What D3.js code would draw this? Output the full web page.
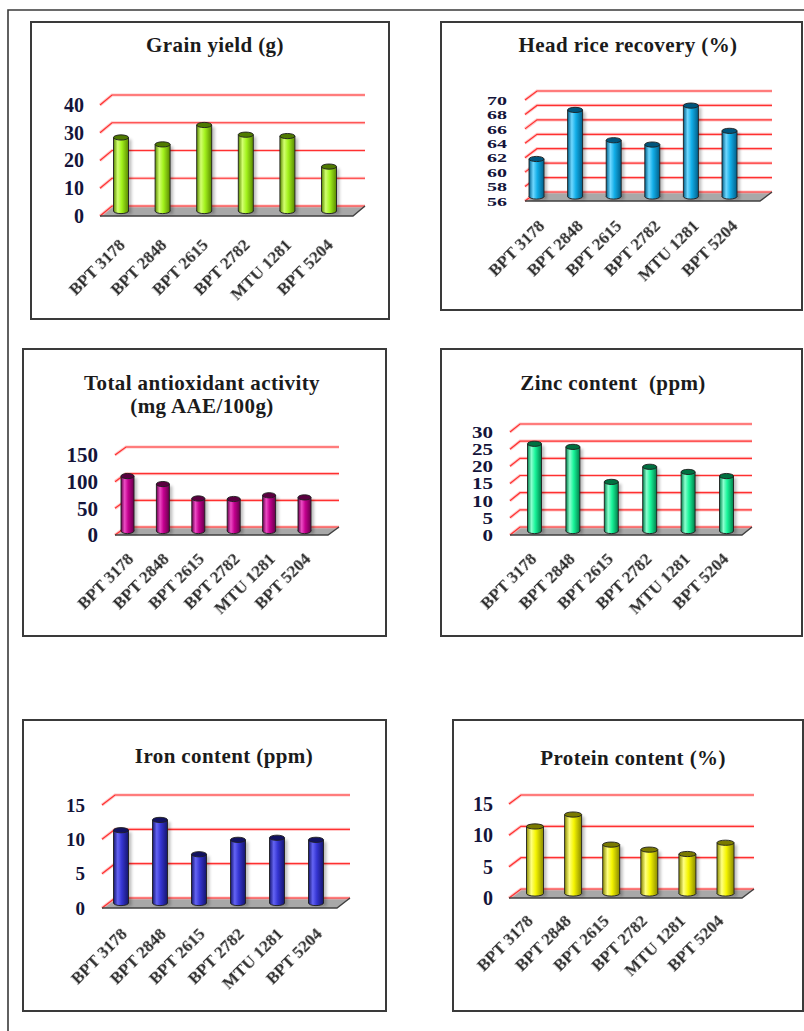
<!DOCTYPE html>
<html>
<head>
<meta charset="utf-8">
<script src="https://cdn.jsdelivr.net/npm/d3@7/dist/d3.min.js"></script>
<style>
  html, body { margin: 0; padding: 0; background: #ffffff; }
  svg { display: block; }
  text { font-family: "Liberation Serif", "Times New Roman", serif; font-weight: bold; }
</style>
</head>
<body>
<svg id="chart" width="804" height="1031"></svg>
<script>
// Rice variety traits
const categories = ["BPT 3178", "BPT 2848", "BPT 2615", "BPT 2782", "MTU 1281", "BPT 5204"];

const grainYield  = [26.5, 24, 31, 27.5, 27, 16];
const headRice    = [61.2, 68.0, 63.8, 63.2, 68.6, 65.1];
const antioxidant = [103, 88, 61, 60, 67, 63];
const zinc        = [25.4, 24.5, 14.3, 18.7, 17.2, 16.0];
const iron        = [10.6, 12.1, 7.1, 9.2, 9.5, 9.2];
const protein     = [10.7, 12.6, 7.8, 7.0, 6.3, 8.1];

const grainTicks       = [0, 10, 20, 30, 40];
const headRiceTicks    = [56, 58, 60, 62, 64, 66, 68, 70];
const antioxidantTicks = [0, 50, 100, 150];
const zincTicks        = [0, 5, 10, 15, 20, 25, 30];
const ironTicks        = [0, 5, 10, 15];
const proteinTicks     = [0, 5, 10, 15];

const grainTitle       = ["Grain yield (g)"];
const headRiceTitle    = ["Head rice recovery (%)"];
const antioxidantTitle = ["Total antioxidant activity", "(mg AAE/100g)"];
const zincTitle        = ["Zinc content  (ppm)"];
const ironTitle        = ["Iron content (ppm)"];
const proteinTitle     = ["Protein content (%)"];

const svg = d3.select("#chart");
const defs = svg.append("defs");

defs.append("filter").attr("id", "shadow")
  .attr("x", "-50%").attr("y", "-10%").attr("width", "200%").attr("height", "130%")
  .append("feGaussianBlur").attr("stdDeviation", 1.6);

defs.append("filter").attr("id", "soft")
  .append("feGaussianBlur").attr("stdDeviation", 0.35);

// outer frame (open at right and bottom)
svg.append("path")
  .attr("d", "M804,10 L8,10 L8,1031")
  .attr("fill", "none").attr("stroke", "#3a3a3a").attr("stroke-width", 1.6);

const panels = [
  { id: "g", values: grainYield, ticks: grainTicks, title: grainTitle,
    box: [31, 22, 358, 297], titleX: 215, titleY: 52,
    fx: 100, fy: 216, W: 253, H: 111, dx: 12, dy: 10,
    c0: 121, step: 41.6, bw: 15, tickX: 84, tickFont: 20, tickSquash: 1,
    labelDx: 5, labelDy: 30,
    base: "#a2f21c", light: "#d2ff70", dark: "#5a8a00", cap: "#4f7a00" },
  { id: "h", values: headRice, ticks: headRiceTicks, title: headRiceTitle,
    box: [441, 22, 361, 288], titleX: 628, titleY: 52,
    fx: 525, fy: 201, W: 235, H: 101, dx: 12, dy: 9,
    c0: 536.5, step: 38.6, bw: 15, tickX: 507, tickFont: 20, tickSquash: 0.66,
    labelDx: 9, labelDy: 26,
    base: "#12aee8", light: "#70d8ff", dark: "#005f8a", cap: "#00557c" },
  { id: "a", values: antioxidant, ticks: antioxidantTicks, title: antioxidantTitle,
    box: [23, 349, 363, 287], titleX: 202, titleY: 390,
    fx: 115, fy: 535, W: 213, H: 80, dx: 11, dy: 8,
    c0: 127.5, step: 35.4, bw: 13, tickX: 98, tickFont: 21, tickSquash: 1,
    labelDx: 7, labelDy: 25,
    base: "#c4008f", light: "#ec4cc4", dark: "#66004a", cap: "#5a0040" },
  { id: "z", values: zinc, ticks: zincTicks, title: zincTitle,
    box: [441, 349, 361, 287], titleX: 613, titleY: 390,
    fx: 510, fy: 535, W: 232, H: 103, dx: 10, dy: 8,
    c0: 534.5, step: 38.4, bw: 14, tickX: 493, tickFont: 21, tickSquash: 0.8,
    labelDx: 3, labelDy: 25,
    base: "#19f59a", light: "#8cffcf", dark: "#00804a", cap: "#007040" },
  { id: "i", values: iron, ticks: ironTicks, title: ironTitle,
    box: [23, 720, 363, 291], titleX: 224, titleY: 763,
    fx: 102, fy: 908, W: 235, H: 103, dx: 13, dy: 10,
    c0: 121, step: 39, bw: 15, tickX: 85, tickFont: 19, tickSquash: 1,
    labelDx: 7, labelDy: 27,
    base: "#3535d2", light: "#6464f4", dark: "#15156e", cap: "#121260" },
  { id: "p", values: protein, ticks: proteinTicks, title: proteinTitle,
    box: [453, 720, 350, 291], titleX: 633, titleY: 765,
    fx: 509, fy: 898, W: 233, H: 94, dx: 12, dy: 9,
    c0: 535, step: 38.1, bw: 17, tickX: 493, tickFont: 20, tickSquash: 1,
    labelDx: -1, labelDy: 24,
    base: "#f5f500", light: "#ffff80", dark: "#8a8a00", cap: "#7a7a00" }
];

panels.forEach(drawPanel);

function drawPanel(p) {
  const g = svg.append("g");

  // panel frame
  g.append("rect")
    .attr("x", p.box[0]).attr("y", p.box[1])
    .attr("width", p.box[2]).attr("height", p.box[3])
    .attr("fill", "#ffffff").attr("stroke", "#3a3a3a").attr("stroke-width", 2);

  // title
  g.selectAll("text.title").data(p.title).join("text")
    .attr("class", "title")
    .attr("x", p.titleX).attr("y", (d, i) => p.titleY + i * 23)
    .attr("text-anchor", "middle")
    .attr("font-size", 21)
    .attr("letter-spacing", 0.4)
    .attr("fill", "#1b1b1b")
    .style("white-space", "pre")
    .text(d => d);

  const lo = p.ticks[0], hi = p.ticks[p.ticks.length - 1];
  const y = d3.scaleLinear().domain([lo, hi]).range([p.fy, p.fy - p.H]);
  const x = d3.scaleBand().domain(categories)
    .range([p.c0 - p.step / 2, p.c0 + p.step * (categories.length - 0.5)]);

  // floor
  g.append("path")
    .attr("d", `M${p.fx},${p.fy} L${p.fx + p.W},${p.fy} L${p.fx + p.W + p.dx},${p.fy - p.dy} L${p.fx + p.dx},${p.fy - p.dy} Z`)
    .attr("fill", "#a8a8a8");

  // gridlines on side and back walls
  const gridPath = v => `M${p.fx},${y(v)} L${p.fx + p.dx},${y(v) - p.dy} L${p.fx + p.W + p.dx},${y(v) - p.dy}`;
  g.selectAll("path.glow").data(p.ticks).join("path")
    .attr("class", "glow")
    .attr("d", gridPath)
    .attr("fill", "none").attr("stroke", "#ffb0b0").attr("stroke-width", 3.2).attr("opacity", 0.7);
  g.selectAll("path.grid").data(p.ticks).join("path")
    .attr("class", "grid")
    .attr("d", gridPath)
    .attr("fill", "none").attr("stroke", "#ff3030").attr("stroke-width", 1.2);

  // floor front and right edges
  g.append("path")
    .attr("d", `M${p.fx},${p.fy} L${p.fx + p.W},${p.fy} L${p.fx + p.W + p.dx},${p.fy - p.dy}`)
    .attr("fill", "none").attr("stroke", "#404040").attr("stroke-width", 1.4);

  // cylinder shading
  const gid = "grad-" + p.id;
  const grad = defs.append("linearGradient").attr("id", gid)
    .attr("x1", "0%").attr("x2", "100%").attr("y1", "0%").attr("y2", "0%");
  [[0, p.dark], [0.28, p.light], [0.55, p.base], [1, p.dark]].forEach(s =>
    grad.append("stop").attr("offset", s[0]).attr("stop-color", s[1]));

  const ry = 2.6;
  const data = categories.map((c, i) => ({ c, v: p.values[i] }));
  const bars = g.selectAll("g.bar").data(data).join("g").attr("class", "bar");
  const cx = d => x(d.c) + x.bandwidth() / 2;
  const yb = y(lo) - p.dy / 2;
  const yt = d => y(d.v) - p.dy / 2;

  bars.append("rect")
    .attr("x", d => cx(d) - p.bw / 2 + 3).attr("y", d => yt(d) + 2)
    .attr("width", p.bw).attr("height", d => yb - yt(d) + 1)
    .attr("fill", "#000").attr("opacity", 0.25).attr("filter", "url(#shadow)");
  bars.append("ellipse")
    .attr("cx", cx).attr("cy", yb).attr("rx", p.bw / 2).attr("ry", ry)
    .attr("fill", `url(#${gid})`).attr("stroke", "#1e1e1e").attr("stroke-width", 0.9);
  bars.append("rect")
    .attr("x", d => cx(d) - p.bw / 2).attr("y", yt)
    .attr("width", p.bw).attr("height", d => yb - yt(d))
    .attr("fill", `url(#${gid})`);
  bars.append("path")
    .attr("d", d => `M${cx(d) - p.bw / 2},${yt(d)} V${yb} M${cx(d) + p.bw / 2},${yt(d)} V${yb}`)
    .attr("stroke", "#1e1e1e").attr("stroke-width", 0.9);
  bars.append("ellipse")
    .attr("cx", cx).attr("cy", yt).attr("rx", p.bw / 2).attr("ry", ry)
    .attr("fill", p.cap).attr("stroke", "#1e1e1e").attr("stroke-width", 0.9);

  // value axis labels on the front plane
  const ya = g.append("g")
    .attr("transform", `translate(${p.tickX},0)`)
    .call(d3.axisLeft(y).tickValues(p.ticks).tickSize(0).tickPadding(0));
  ya.select(".domain").remove();
  ya.selectAll("text")
    .attr("font-size", p.tickFont)
    .attr("font-family", "Liberation Serif")
    .attr("fill", "#14143a")
    .attr("transform", `scale(1,${p.tickSquash})`);

  // category labels
  const xa = g.append("g")
    .attr("transform", `translate(${p.labelDx},${p.fy + p.labelDy})`)
    .call(d3.axisBottom(x).tickSize(0).tickPadding(0));
  xa.select(".domain").remove();
  xa.selectAll("text")
    .attr("font-size", 17)
    .attr("font-family", "Liberation Serif")
    .attr("fill", "#2b2b2b")
    .attr("text-anchor", "end")
    .attr("x", 0).attr("y", 0).attr("dy", 0)
    .attr("transform", "rotate(-45)")
    .attr("filter", "url(#soft)");
}
</script>
</body>
</html>
